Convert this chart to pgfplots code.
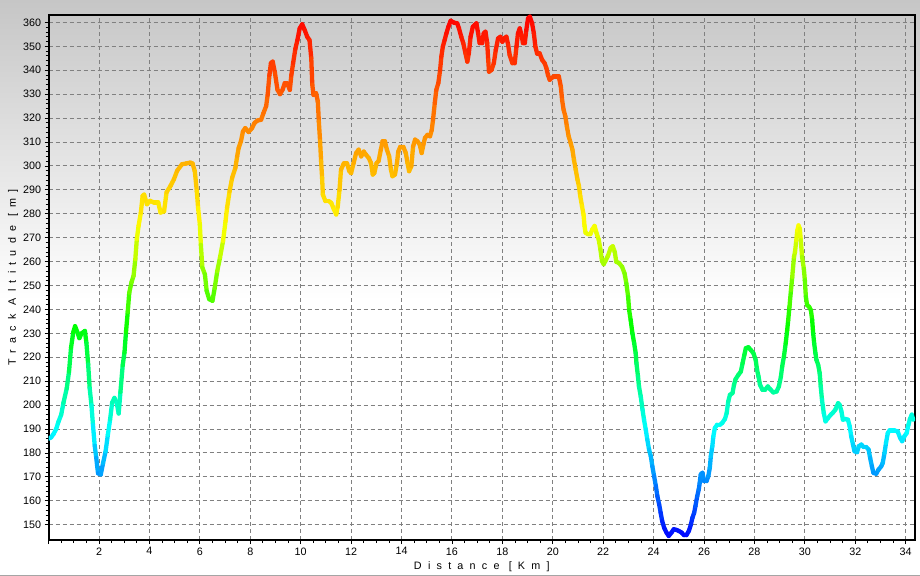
\documentclass[border=0pt]{standalone}
\usepackage{fontspec}
\setmainfont{Liberation Sans}
\newfontfamily\spacedfont[LetterSpace=58]{Liberation Sans}
\usepackage{pgfplots}
\pgfplotsset{compat=1.18}
\definecolor{bgtop}{RGB}{198,198,198}
\definecolor{gridgray}{RGB}{128,128,128}
\definecolor{framegray}{RGB}{165,165,165}

\begin{document}
\begin{tikzpicture}
\path[use as bounding box] (0bp,0bp) rectangle (920bp,576bp);
\fill[white] (0bp,0bp) rectangle (920bp,576bp);
\shade[top color=bgtop, bottom color=white] (0bp,276bp) rectangle (920bp,576bp);
\draw[framegray, line width=1bp] (0bp,0.5bp) -- (920bp,0.5bp);
\begin{axis}[
  at={(48.6bp,36bp)}, anchor=south west,
  scale only axis, width=866.4bp, height=525bp,
  xmin=0, xmax=34.37, ymin=143.6, ymax=363.1,
  xtick={0,2,...,34},
  xticklabels={,2,4,6,8,10,12,14,16,18,20,22,24,26,28,30,32,34},
  ytick={150,160,...,360},
  minor x tick num=3, minor y tick num=4,
  tick align=outside, major tick length=4bp, minor tick length=3bp,
  xtick pos=left, ytick pos=left,
  grid=major,
  major grid style={gridgray, dash pattern=on 4bp off 3bp, line width=1bp},
  axis line style={line width=2bp},
  tick style={black, line width=0.8bp},
  tick label style={font=\fontsize{10.8}{12}\selectfont},
  /pgf/number format/assume math mode=true,
  xlabel={\spacedfont Distance [Km]},
  ylabel={\spacedfont Track Altitude [m]},
  label style={font=\fontsize{10.8}{12}\selectfont},
  xlabel style={at={(axis description cs:0.5,-0.0514)}, anchor=center},
  ylabel style={at={(axis description cs:-0.0411,0.5)}, anchor=center, rotate=0},
  colormap={alt}{rgb255(0)=(0,0,255) rgb255(46)=(0,255,255) rgb255(88)=(0,255,0) rgb255(131)=(255,255,0) rgb255(218)=(255,0,0)},
  point meta min=144, point meta max=362,
]
\addplot[mesh, point meta=y, line width=4.3bp, line cap=round, line join=round] table {
x y
0.00 186
0.10 186.5
0.20 188
0.30 190
0.39 193
0.50 196
0.59 201
0.72 207
0.81 214
0.89 224
0.98 230.5
1.05 233
1.14 230.5
1.22 228
1.31 230
1.44 231
1.50 226
1.57 217
1.63 207
1.70 200
1.76 191.7
1.83 183
1.89 178
1.96 171.5
2.07 171
2.16 175.7
2.26 180.6
2.35 187.5
2.44 194
2.52 201
2.61 203
2.70 201
2.78 196.5
2.85 205.5
2.94 216.7
3.01 222
3.07 230.5
3.14 239
3.20 247
3.29 251.4
3.37 254
3.44 261
3.50 269.4
3.57 275
3.66 280.5
3.73 287.5
3.79 288
3.90 284
4.03 285.4
4.18 284.7
4.35 284.7
4.44 280.5
4.58 281
4.68 289
4.84 291.7
4.97 294.4
5.10 298
5.29 300.7
5.45 301
5.62 301.4
5.71 301
5.80 297.8
5.88 289.4
5.93 282.5
6.00 275.5
6.04 267
6.10 257.5
6.20 254.7
6.27 247.8
6.37 244.3
6.50 243.6
6.59 249
6.69 256
6.80 261.7
6.92 268.6
7.02 277
7.08 282.5
7.18 289.4
7.28 295
7.41 299.2
7.48 304
7.54 307.5
7.63 310.3
7.71 314.4
7.80 315.8
7.93 314.2
8.07 315.8
8.17 318
8.29 319
8.43 319.3
8.52 322
8.63 325
8.69 329.7
8.76 338
8.82 343
8.89 343.6
8.98 338.8
9.08 331.8
9.18 330
9.28 331.8
9.37 334.6
9.46 334.6
9.57 331.8
9.63 338
9.70 343
9.79 349
9.87 352.6
9.96 357.5
10.06 359.2
10.16 356.8
10.26 354
10.35 352.6
10.42 345
10.46 334
10.51 329.7
10.61 330.4
10.68 327
10.72 318.6
10.77 310.3
10.81 302
10.85 295
10.88 288
10.98 285.3
11.11 285.3
11.21 284.6
11.32 281.8
11.41 279.7
11.47 283
11.54 290
11.60 298.5
11.71 301
11.84 301
11.93 297.8
12.00 297
12.10 301.2
12.20 305.4
12.30 306.8
12.40 304
12.50 306
12.59 304.7
12.70 303.3
12.79 301.2
12.86 296.4
12.92 297
13.01 301.2
13.09 302
13.18 306.8
13.25 310.3
13.34 310.3
13.42 306.8
13.51 304
13.58 298.5
13.64 295.7
13.74 296.4
13.82 301.2
13.87 306
13.95 308
14.07 308
14.17 305.4
14.24 301.2
14.30 297.8
14.39 299.9
14.46 308.2
14.54 311
14.63 310.3
14.72 309
14.80 305.4
14.87 309
14.93 311.7
15.03 313
15.13 312.4
15.20 315
15.25 319.3
15.32 326.3
15.38 331.8
15.46 334.6
15.53 340
15.58 345.7
15.64 349.9
15.71 352.6
15.78 355.4
15.86 358.2
15.95 360.7
16.08 359.9
16.21 359.6
16.28 357.5
16.37 354
16.45 351.3
16.54 347
16.61 343.6
16.67 347
16.74 354
16.83 358.2
16.90 358.9
16.97 359.6
17.04 355.4
17.10 351.3
17.20 351.3
17.26 355.4
17.33 356.1
17.40 351.3
17.44 344.3
17.47 339.4
17.57 340.1
17.66 342.9
17.74 348.5
17.83 353.3
17.92 354
18.00 351.9
18.07 353.3
18.16 354
18.23 350.6
18.29 346.4
18.40 342.9
18.49 342.9
18.56 349.9
18.62 355.4
18.69 357.5
18.76 354.7
18.82 351.3
18.89 351.3
18.95 356.8
19.02 361.7
19.09 362.4
19.18 359.6
19.25 355.4
19.31 349.9
19.38 347
19.48 347
19.58 344.3
19.68 342.9
19.75 340.8
19.81 338
19.88 336
19.95 336.7
20.04 337.4
20.14 337.4
20.24 337.4
20.32 333.2
20.37 327.6
20.43 323.5
20.50 320.7
20.56 316.5
20.63 312.4
20.71 309.6
20.78 306.8
20.84 302.6
20.91 298.5
20.98 294.3
21.04 291.5
21.09 287.4
21.16 283.2
21.22 279.7
21.26 274.9
21.30 272.1
21.40 271.4
21.49 271.4
21.57 273.5
21.66 274.9
21.73 272.1
21.82 269.3
21.89 265.1
21.95 260.3
22.02 258.9
22.10 260.5
22.19 262.4
22.30 265.8
22.38 266.4
22.46 264
22.52 259.9
22.63 259.4
22.75 257.8
22.85 255
22.92 250.8
22.99 245.3
23.03 239.7
23.09 235.6
23.16 230
23.23 225.8
23.29 221.7
23.32 217.5
23.38 212
23.42 207.8
23.49 203.6
23.56 198.1
23.62 193.9
23.69 189.7
23.75 185.6
23.82 181.4
23.89 178.6
23.95 174.4
24.02 170.3
24.09 166.1
24.15 161.9
24.22 158.5
24.28 155
24.34 151.5
24.42 148.7
24.51 146.7
24.60 145.3
24.71 146.7
24.80 148.1
24.91 147.8
25.00 147.4
25.11 146.7
25.21 145.6
25.30 145.6
25.40 147.4
25.48 150.1
25.54 152.9
25.61 155
25.66 157.8
25.73 161.9
25.79 164.7
25.83 167.5
25.87 171
25.94 171.7
26.00 168.2
26.10 168.2
26.17 170.3
26.23 173.8
26.27 178.6
26.33 182.8
26.37 186.9
26.43 190.4
26.52 191.8
26.63 191.8
26.72 192.5
26.83 194.2
26.90 196.7
26.96 201.5
27.03 204.3
27.13 205
27.19 208.5
27.25 210.8
27.36 212.6
27.46 214
27.53 217.5
27.60 221
27.66 223.8
27.76 224.2
27.85 223.1
27.96 221.7
28.05 218.9
28.10 215
28.16 212
28.22 208.5
28.32 206.4
28.42 206.4
28.53 207.8
28.62 206.7
28.75 205.3
28.88 205.7
28.97 207.8
29.05 211.9
29.10 216.1
29.17 220.3
29.24 225.8
29.30 231.4
29.34 235.6
29.39 241.1
29.45 248.1
29.50 253.6
29.57 262
29.61 264
29.66 268.9
29.70 273
29.75 275.1
29.80 273.8
29.84 268.9
29.89 262
29.96 257
30.00 252.2
30.04 245.3
30.09 241.8
30.17 241.1
30.24 239.7
30.29 235.6
30.33 230
30.37 225.8
30.42 221.7
30.46 218.9
30.53 216.8
30.59 213.3
30.63 207.8
30.68 202.2
30.75 196.7
30.82 193.2
30.92 194.6
31.03 196
31.12 196.9
31.21 198.1
31.32 200.8
31.38 200.1
31.45 197.4
31.51 193.9
31.61 194.2
31.71 193.9
31.78 191.1
31.84 186.9
31.91 183.5
31.97 180.7
32.07 180.3
32.14 182.8
32.24 183.5
32.33 182.5
32.43 182.5
32.53 181.4
32.59 177.9
32.66 174.4
32.72 171.7
32.83 171.3
32.92 173
33.03 174.4
33.09 175.8
33.16 180
33.22 184.2
33.29 188.3
33.36 189.4
33.46 189.4
33.55 189.4
33.68 189
33.78 186.3
33.86 184.9
33.95 187
34.04 188.3
34.11 191.8
34.17 194.2
34.24 196
34.30 193.9
};
\end{axis}
\end{tikzpicture}
\end{document}
